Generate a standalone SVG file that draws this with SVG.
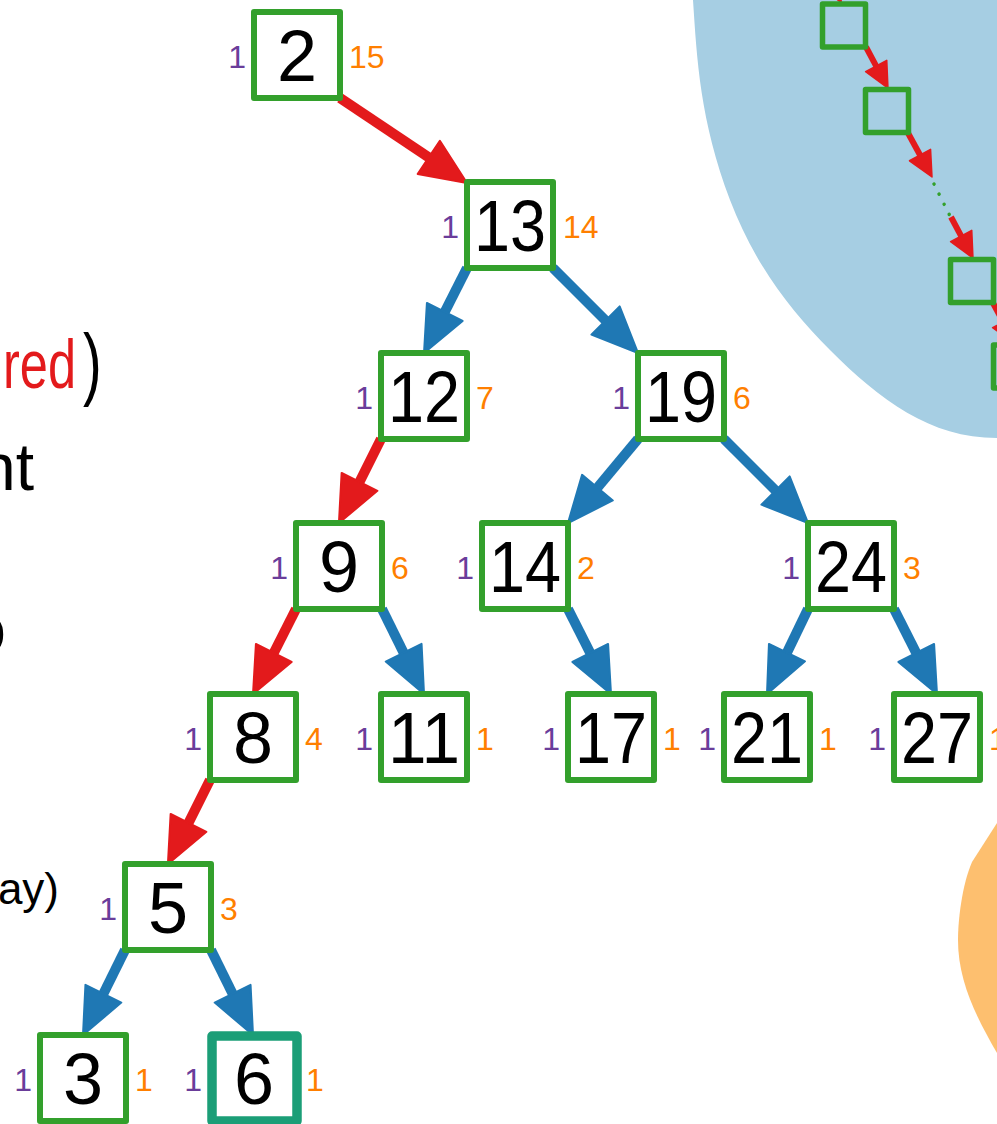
<svg xmlns="http://www.w3.org/2000/svg" width="997" height="1124" viewBox="0 0 997 1124">
<style>
.box{fill:#fff;stroke:#33a02c;stroke-width:6;stroke-linejoin:round}
.sbox{fill:none;stroke:#33a02c;stroke-width:5.5;stroke-linejoin:round}
.num{font-family:"Liberation Sans",Arial,sans-serif;font-size:72px;fill:#000;text-anchor:middle}
.l{font-family:"Liberation Sans",Arial,sans-serif;font-size:32px;fill:#6a3d9a;text-anchor:end}
.r{font-family:"Liberation Sans",Arial,sans-serif;font-size:32px;fill:#ff7f00}
.side{font-family:"Liberation Sans",Arial,sans-serif;fill:#000}
.eb{stroke:#1f78b4;stroke-width:10;fill:none;marker-end:url(#ab)}
.er{stroke:#e31a1c;stroke-width:10;fill:none;marker-end:url(#ar)}
.es{stroke:#e31a1c;stroke-width:6;fill:none;marker-end:url(#as)}
</style>
<defs>
<marker id="ab" markerUnits="userSpaceOnUse" markerWidth="52" markerHeight="46" refX="11" refY="20" orient="auto" overflow="visible"><path d="M0,0 L46,20 L0,40 z" fill="#1f78b4" stroke="#1f78b4" stroke-width="2" stroke-linejoin="round"/></marker>
<marker id="ar" markerUnits="userSpaceOnUse" markerWidth="52" markerHeight="46" refX="11" refY="20" orient="auto" overflow="visible"><path d="M0,0 L46,20 L0,40 z" fill="#e31a1c" stroke="#e31a1c" stroke-width="2" stroke-linejoin="round"/></marker>
<marker id="as" markerUnits="userSpaceOnUse" markerWidth="30" markerHeight="28" refX="6" refY="12" orient="auto" overflow="visible"><path d="M0,0 L25,12 L0,24 z" fill="#e31a1c" stroke="#e31a1c" stroke-width="1.5" stroke-linejoin="round"/></marker>
</defs>

<g id="blob-blue">
<path d="M693,0 C697,60 700,120 730,200 C755,265 790,310 830,350 C880,400 930,438 997,438 L997,0 Z" fill="#a6cee3"/>
</g>
<g id="blob-orange">
<path d="M997,823 L972,862 C962,885 958,920 958,940 C958,980 975,1015 997,1053 Z" fill="#fdbf6f"/>
</g>

<g id="side-text">
<text class="side" x="3" y="388" font-size="68" textLength="73" lengthAdjust="spacingAndGlyphs" style="fill:#e31a1c">red</text>
<text class="side" transform="translate(83,390) scale(0.85,1.2)" x="0" y="0" font-size="66">)</text>
<text class="side" x="34" y="490" font-size="66" text-anchor="end">nt</text>
<text class="side" x="6" y="652" font-size="66" text-anchor="end">o</text>
<text class="side" x="59" y="904" font-size="44" text-anchor="end">ay)</text>
</g>

<g id="chain">
<line class="es" x1="823" y1="-39" x2="833.5" y2="-14.7"/>
<line class="es" x1="866" y1="47" x2="879" y2="71.3"/>
<line class="es" x1="908" y1="133" x2="922.9" y2="160.3"/>
<line x1="934" y1="184" x2="950" y2="216" stroke="#33a02c" stroke-width="3.5" stroke-linecap="round" stroke-dasharray="0.1 11.2"/>
<line class="es" x1="951" y1="217" x2="964" y2="241.3"/>
<line class="es" x1="993" y1="303" x2="1006" y2="327.3"/>
<rect id="c1" class="sbox" x="822.5" y="4" width="43" height="43"/>
<rect id="c2" class="sbox" x="865.5" y="89.5" width="43" height="43"/>
<rect id="c3" class="sbox" x="950.5" y="259.5" width="43" height="43"/>
<rect id="c4" class="sbox" x="993.5" y="345" width="43" height="43"/>
</g>

<g id="edges">
<line class="er" x1="340" y1="98" x2="437.9" y2="163.5"/>
<line class="eb" x1="467" y1="268" x2="439.8" y2="321.8"/>
<line class="eb" x1="553" y1="268" x2="613.3" y2="328.3"/>
<line class="er" x1="381" y1="439" x2="354.6" y2="491.7"/>
<line class="eb" x1="638" y1="439" x2="590.4" y2="496.1"/>
<line class="eb" x1="724" y1="439" x2="783.3" y2="498.3"/>
<line class="er" x1="296" y1="609" x2="268.8" y2="662.8"/>
<line class="eb" x1="382" y1="609" x2="408.5" y2="662.6"/>
<line class="eb" x1="568" y1="609" x2="595.2" y2="662.8"/>
<line class="eb" x1="808" y1="609" x2="782.2" y2="662.5"/>
<line class="eb" x1="894" y1="609" x2="921.2" y2="662.8"/>
<line class="er" x1="210" y1="780" x2="183.6" y2="832.7"/>
<line class="eb" x1="125" y1="950" x2="98.5" y2="1003.6"/>
<line class="eb" x1="211" y1="950" x2="237.5" y2="1003.6"/>
</g>

<g id="n2"><rect class="box" x="254" y="12" width="86" height="86"/><text class="num" x="297" y="81">2</text><text class="l" x="246" y="68">1</text><text class="r" x="349" y="68">15</text></g>
<g id="n13"><rect class="box" x="467" y="182" width="86" height="86"/><text class="num" x="510" y="251" textLength="72" lengthAdjust="spacingAndGlyphs">13</text><text class="l" x="459" y="238">1</text><text class="r" x="563" y="238">14</text></g>
<g id="n12"><rect class="box" x="381" y="353" width="86" height="86"/><text class="num" x="424" y="422" textLength="72" lengthAdjust="spacingAndGlyphs">12</text><text class="l" x="373" y="409">1</text><text class="r" x="476" y="409">7</text></g>
<g id="n19"><rect class="box" x="638" y="353" width="86" height="86"/><text class="num" x="681" y="422" textLength="72" lengthAdjust="spacingAndGlyphs">19</text><text class="l" x="630" y="409">1</text><text class="r" x="733" y="409">6</text></g>
<g id="n9"><rect class="box" x="296" y="523" width="86" height="86"/><text class="num" x="339" y="592">9</text><text class="l" x="288" y="579">1</text><text class="r" x="391" y="579">6</text></g>
<g id="n14"><rect class="box" x="482" y="523" width="86" height="86"/><text class="num" x="525" y="592" textLength="72" lengthAdjust="spacingAndGlyphs">14</text><text class="l" x="474" y="579">1</text><text class="r" x="577" y="579">2</text></g>
<g id="n24"><rect class="box" x="808" y="523" width="86" height="86"/><text class="num" x="851" y="592" textLength="72" lengthAdjust="spacingAndGlyphs">24</text><text class="l" x="800" y="579">1</text><text class="r" x="903" y="579">3</text></g>
<g id="n8"><rect class="box" x="210" y="694" width="86" height="86"/><text class="num" x="253" y="763">8</text><text class="l" x="202" y="750">1</text><text class="r" x="305" y="750">4</text></g>
<g id="n11"><rect class="box" x="381" y="694" width="86" height="86"/><text class="num" x="424" y="763" textLength="72" lengthAdjust="spacingAndGlyphs">11</text><text class="l" x="373" y="750">1</text><text class="r" x="476" y="750">1</text></g>
<g id="n17"><rect class="box" x="568" y="694" width="86" height="86"/><text class="num" x="611" y="763" textLength="72" lengthAdjust="spacingAndGlyphs">17</text><text class="l" x="560" y="750">1</text><text class="r" x="663" y="750">1</text></g>
<g id="n21"><rect class="box" x="724" y="694" width="86" height="86"/><text class="num" x="767" y="763" textLength="72" lengthAdjust="spacingAndGlyphs">21</text><text class="l" x="716" y="750">1</text><text class="r" x="819" y="750">1</text></g>
<g id="n27"><rect class="box" x="894" y="694" width="86" height="86"/><text class="num" x="937" y="763" textLength="72" lengthAdjust="spacingAndGlyphs">27</text><text class="l" x="886" y="750">1</text><text class="r" x="989" y="750">1</text></g>
<g id="n5"><rect class="box" x="125" y="864" width="86" height="86"/><text class="num" x="168" y="933">5</text><text class="l" x="117" y="920">1</text><text class="r" x="220" y="920">3</text></g>
<g id="n3"><rect class="box" x="40" y="1035" width="86" height="86"/><text class="num" x="83" y="1104">3</text><text class="l" x="32" y="1091">1</text><text class="r" x="135" y="1091">1</text></g>
<g id="n6"><rect class="box" x="212" y="1036" width="85" height="85" style="stroke:#1b9e77;stroke-width:9.5"/><text class="num" x="254" y="1104">6</text><text class="l" x="202" y="1091">1</text><text class="r" x="306" y="1091">1</text></g>
</svg>
